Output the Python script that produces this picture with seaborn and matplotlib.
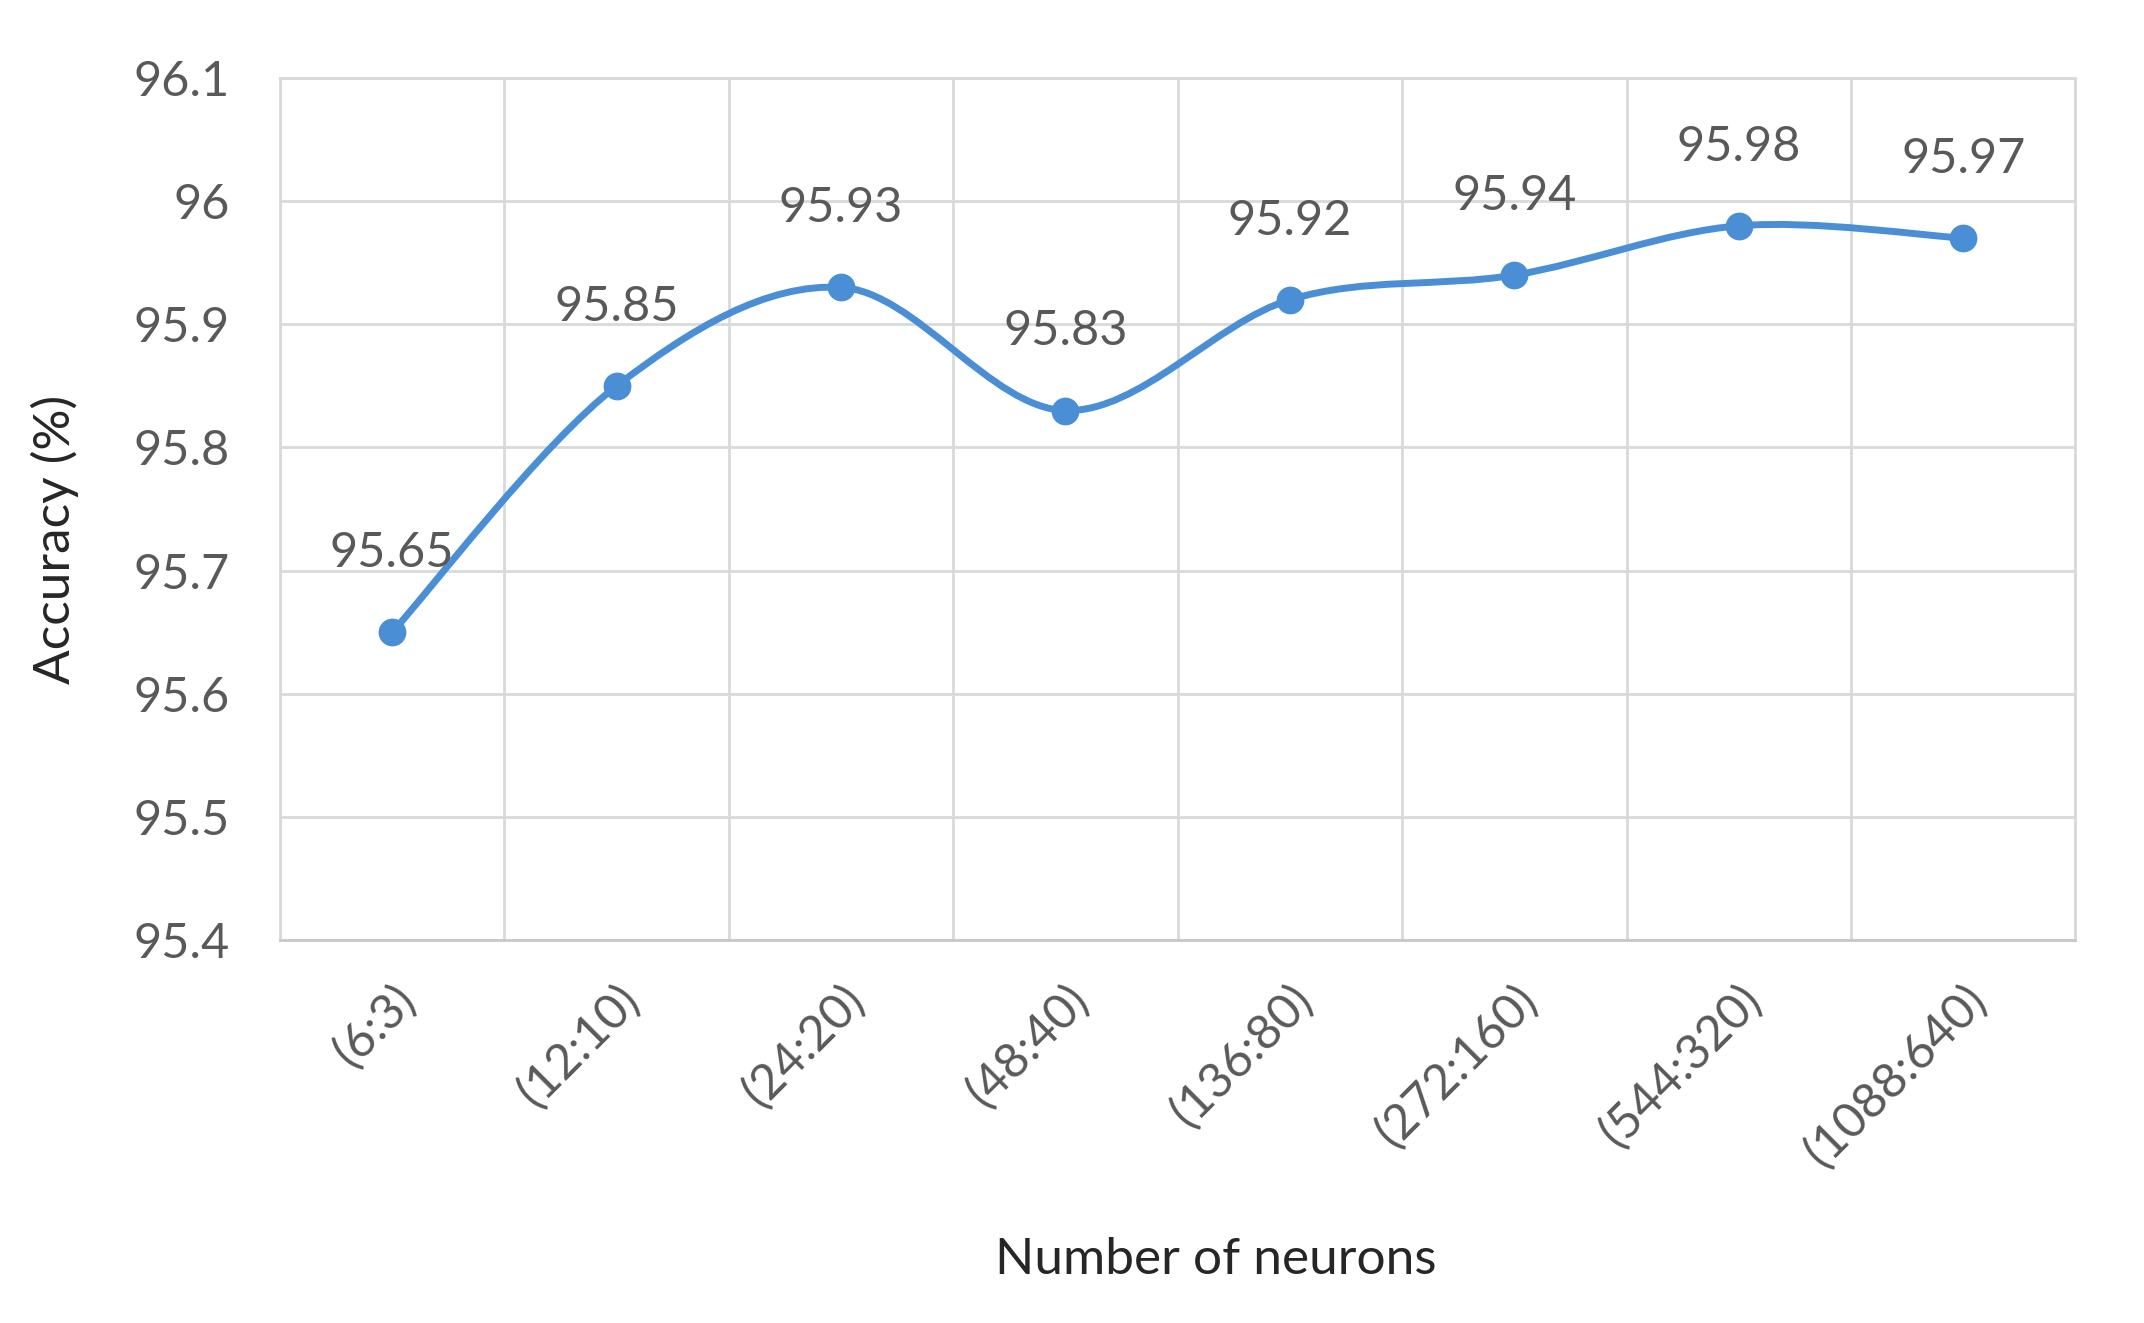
import numpy as np
import pandas as pd
import seaborn as sns
import matplotlib
matplotlib.use("Agg")
import matplotlib.pyplot as plt
from matplotlib.path import Path
from matplotlib.patches import PathPatch

categories = ["(6:3)", "(12:10)", "(24:20)", "(48:40)", "(136:80)", "(272:160)", "(544:320)", "(1088:640)"]
accuracy = [95.65, 95.85, 95.93, 95.83, 95.92, 95.94, 95.98, 95.97]
y_ticks = [95.4, 95.5, 95.6, 95.7, 95.8, 95.9, 96.0, 96.1]
y_tick_labels = ["95.4", "95.5", "95.6", "95.7", "95.8", "95.9", "96", "96.1"]

sns.set_theme(style="white")
plt.rcParams['font.family'] = ['Lato', 'DejaVu Sans']

LINE = "#4A8FD6"
TXT = "#595959"
GRID = "#D9D9D9"

df = pd.DataFrame({"cat": categories, "acc": accuracy, "x": np.arange(len(categories))})

fig = plt.figure(figsize=(21.44, 13.23), dpi=100)
ax = fig.add_axes([0.1306, 0.2895, 0.968 - 0.1306, 0.941 - 0.2895])

# smooth curve (Catmull-Rom style Bezier through data points)
xs = df["x"].to_numpy(dtype=float)
ys = df["acc"].to_numpy(dtype=float)
verts = [(xs[0], ys[0])]
codes = [Path.MOVETO]
n = len(xs)
for i in range(n - 1):
    x0, y0 = (xs[i - 1], ys[i - 1]) if i > 0 else (xs[i], ys[i])
    x1, y1 = xs[i], ys[i]
    x2, y2 = xs[i + 1], ys[i + 1]
    x3, y3 = (xs[i + 2], ys[i + 2]) if i + 2 < n else (xs[i + 1], ys[i + 1])
    c1 = (x1 + (x2 - x0) / 6, y1 + (y2 - y0) / 6)
    c2 = (x2 - (x3 - x1) / 6, y2 - (y3 - y1) / 6)
    verts += [c1, c2, (x2, y2)]
    codes += [Path.CURVE4] * 3
ax.add_patch(PathPatch(Path(verts, codes), facecolor="none", edgecolor=LINE, lw=5, zorder=3))

sns.scatterplot(data=df, x="x", y="acc", ax=ax, color=LINE, s=400, edgecolor=LINE, linewidth=0, zorder=4, legend=False)

for xi, yi in zip(xs, ys):
    ax.annotate(f"{yi:g}", (xi, yi), xytext=(0, 57), textcoords="offset points",
                ha="center", va="center", fontsize=35, color=TXT)

ax.set_xlim(-0.5, n - 0.5)
ax.set_ylim(95.4, 96.1)
ax.set_yticks(y_ticks)
ax.set_yticklabels(y_tick_labels)
ax.set_xticks(xs)
ax.set_xticklabels(categories, rotation=45, ha="right", va="top", rotation_mode="anchor")
ax.set_xticks(np.arange(n + 1) - 0.5, minor=True)
ax.grid(False)
ax.grid(True, which="minor", axis="x", color=GRID, lw=2)
ax.grid(True, which="major", axis="y", color=GRID, lw=2)
ax.tick_params(axis="y", which="both", length=0, pad=36, labelsize=35, labelcolor=TXT)
ax.tick_params(axis="x", which="both", length=0, pad=26, labelsize=35, labelcolor=TXT)
for s in ax.spines.values():
    s.set_color(GRID)
    s.set_linewidth(2)
ax.spines["bottom"].set_color("#C8C8C8")

ax.set_xlabel("Number of neurons", fontsize=37, color="#262626")
ax.set_ylabel("Accuracy (%)", fontsize=37, color="#262626")
ax.xaxis.set_label_coords(0.521, -0.345)
ax.yaxis.set_label_coords(-0.112, 0.465)

fig.savefig("out.png", dpi=100, facecolor="white")
